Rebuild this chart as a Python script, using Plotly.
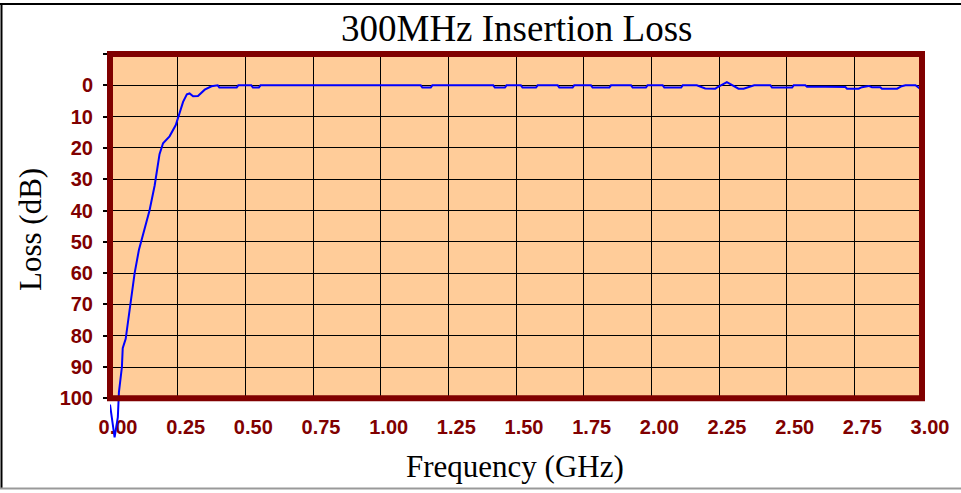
import plotly.graph_objects as go

# ---------------- data ----------------
title_text = "300MHz Insertion Loss"
x_title = "Frequency (GHz)"
y_title = "Loss (dB)"

x_tickvals = [0.00, 0.25, 0.50, 0.75, 1.00, 1.25, 1.50, 1.75, 2.00, 2.25, 2.50, 2.75, 3.00]
x_ticktext = ["0.00", "0.25", "0.50", "0.75", "1.00", "1.25", "1.50", "1.75", "2.00", "2.25", "2.50", "2.75", "3.00"]
y_tickvals = [-10, 0, 10, 20, 30, 40, 50, 60, 70, 80, 90, 100]
y_ticktext = ["", "0", "10", "20", "30", "40", "50", "60", "70", "80", "90", "100"]

# roll-off region (GHz, dB)
freq_rolloff = [0.000, 0.017, 0.029, 0.033, 0.044, 0.047, 0.058, 0.075, 0.091, 0.107,
                0.128, 0.146, 0.165, 0.183, 0.196, 0.220, 0.243, 0.255, 0.270, 0.284,
                0.294, 0.307, 0.325, 0.350, 0.375, 0.398]
loss_rolloff = [102.0, 112.5, 106.0, 98.0, 90.0, 84.0, 81.0, 70.5, 60.0, 52.5,
                46.0, 40.0, 32.0, 22.0, 18.5, 16.3, 12.7, 9.5, 5.3, 2.9,
                2.6, 3.5, 3.4, 1.4, 0.3, 0.0]

# passband region (GHz, dB)
freq_pass = [0.404, 0.468, 0.474, 0.522, 0.528, 0.550, 0.556,
             1.148, 1.154, 1.185, 1.191,
             1.416, 1.422, 1.459, 1.465,
             1.518, 1.524, 1.574, 1.580,
             1.654, 1.660, 1.709, 1.715,
             1.777, 1.783, 1.845, 1.851,
             1.925, 1.931, 1.980, 1.986,
             2.042, 2.048, 2.110, 2.116,
             2.168, 2.199, 2.236, 2.242, 2.279, 2.310, 2.322, 2.341, 2.353, 2.372, 2.380,
             2.440, 2.446, 2.520, 2.526, 2.569, 2.575, 2.643, 2.667, 2.717, 2.723,
             2.766, 2.778, 2.803, 2.815, 2.846, 2.852, 2.908, 2.925, 2.939, 2.976, 3.000]
loss_pass = [0.7, 0.7, 0.0, 0.0, 0.7, 0.7, 0.0,
             0.0, 0.7, 0.7, 0.0,
             0.0, 0.7, 0.7, 0.0,
             0.0, 0.7, 0.7, 0.0,
             0.0, 0.7, 0.7, 0.0,
             0.0, 0.7, 0.7, 0.0,
             0.0, 0.7, 0.7, 0.0,
             0.0, 0.7, 0.7, 0.0,
             0.0, 1.0, 1.1, 0.75, -1.0, 0.5, 1.1, 1.1, 0.75, 0.2, 0.0,
             0.0, 0.7, 0.7, 0.0, 0.0, 0.45, 0.45, 0.55, 0.55, 1.1,
             1.1, 0.6, 0.2, 0.6, 0.6, 1.1, 1.1, 0.3, 0.0, 0.0, 1.6]

freq = freq_rolloff + freq_pass
loss = loss_rolloff + loss_pass

# ---------------- layout geometry ----------------
W, H = 961, 493
ML, MR, MT, MB = 110, 39, 54, 38
PLOT_W = W - ML - MR
PLOT_H = H - MT - MB
FRAME_BOTTOM_PX = 398.3
X_RANGE = [0, 3]
Y_TOP, Y_BOTTOM = -10, 100

y_dom0 = (H - MB - FRAME_BOTTOM_PX) / PLOT_H
px_per_unit = (FRAME_BOTTOM_PX - MT) / (Y_BOTTOM - Y_TOP)
y2_bottom = Y_TOP + PLOT_H / px_per_unit


def px_x(px):
    return (px - ML) / PLOT_W


def px_y(py):
    return (H - MB - py) / PLOT_H


DARK_RED = "#800000"
BG = "#FFCC99"

fig = go.Figure()
# empty trace so that the main (visible) axes are drawn
fig.add_trace(go.Scatter(x=[None], y=[None], mode="lines", xaxis="x", yaxis="y",
                         showlegend=False, hoverinfo="skip"))
fig.add_trace(go.Scatter(
    x=freq, y=loss, mode="lines", xaxis="x2", yaxis="y2",
    line=dict(color="#0000FF", width=2), hoverinfo="x+y", showlegend=False,
))

tick_font = dict(family="Liberation Sans, Arial, sans-serif", size=20,
                 color=DARK_RED, weight="bold")

fig.update_layout(
    width=W, height=H,
    margin=dict(l=ML, r=MR, t=MT, b=MB, pad=0),
    paper_bgcolor="white", plot_bgcolor="rgba(0,0,0,0)",
    showlegend=False,
    xaxis=dict(domain=[0, 1], range=X_RANGE, anchor="y",
               tickvals=x_tickvals, ticktext=x_ticktext, ticks="",
               showgrid=True, gridcolor="black", gridwidth=1,
               zeroline=False, showline=False,
               tickfont=tick_font, ticklabelshift=8, ticklabelstandoff=15),
    yaxis=dict(domain=[y_dom0, 1], range=[Y_BOTTOM, Y_TOP], anchor="x",
               tickvals=y_tickvals, ticktext=y_ticktext,
               ticks="outside", ticklen=6, tickwidth=1.5, tickcolor="black",
               showgrid=True, gridcolor="black", gridwidth=1,
               zeroline=False, showline=False,
               tickfont=tick_font, ticklabelstandoff=6),
    xaxis2=dict(domain=[0, 1], range=X_RANGE, anchor="y2", visible=False),
    yaxis2=dict(domain=[0, 1], range=[y2_bottom, Y_TOP], anchor="x2", visible=False),
    shapes=[
        # plot background
        dict(type="rect", xref="paper", yref="paper", x0=0, x1=1, y0=y_dom0, y1=1,
             fillcolor=BG, line=dict(width=0), layer="below"),
        # thick frame
        dict(type="rect", xref="paper", yref="paper", x0=0, x1=1, y0=y_dom0, y1=1,
             fillcolor="rgba(0,0,0,0)", line=dict(color=DARK_RED, width=6), layer="above"),
        # outer chart border
        dict(type="line", xref="paper", yref="paper", x0=px_x(0), x1=px_x(W),
             y0=px_y(4), y1=px_y(4), line=dict(color="black", width=2)),
        dict(type="line", xref="paper", yref="paper", x0=px_x(1.5), x1=px_x(1.5),
             y0=px_y(4), y1=px_y(488), line=dict(color="black", width=2)),
        dict(type="line", xref="paper", yref="paper", x0=px_x(0), x1=px_x(W),
             y0=px_y(488.5), y1=px_y(488.5), line=dict(color="#999999", width=2)),
    ],
    annotations=[
        dict(text=title_text, xref="paper", yref="paper", x=px_x(516), y=px_y(28),
             xanchor="center", yanchor="middle", showarrow=False,
             font=dict(family="Liberation Serif, Times New Roman, serif", size=37, color="black")),
        dict(text=x_title, xref="paper", yref="paper", x=px_x(515), y=px_y(466),
             xanchor="center", yanchor="middle", showarrow=False,
             font=dict(family="Liberation Serif, Times New Roman, serif", size=31, color="black")),
        dict(text=y_title, xref="paper", yref="paper", x=px_x(30), y=px_y(230),
             xanchor="center", yanchor="middle", showarrow=False, textangle=-90,
             font=dict(family="Liberation Serif, Times New Roman, serif", size=31, color="black")),
    ],
)

fig.write_html("out.html", config={"displayModeBar": False},
               post_script="document.body.style.margin='0';")
